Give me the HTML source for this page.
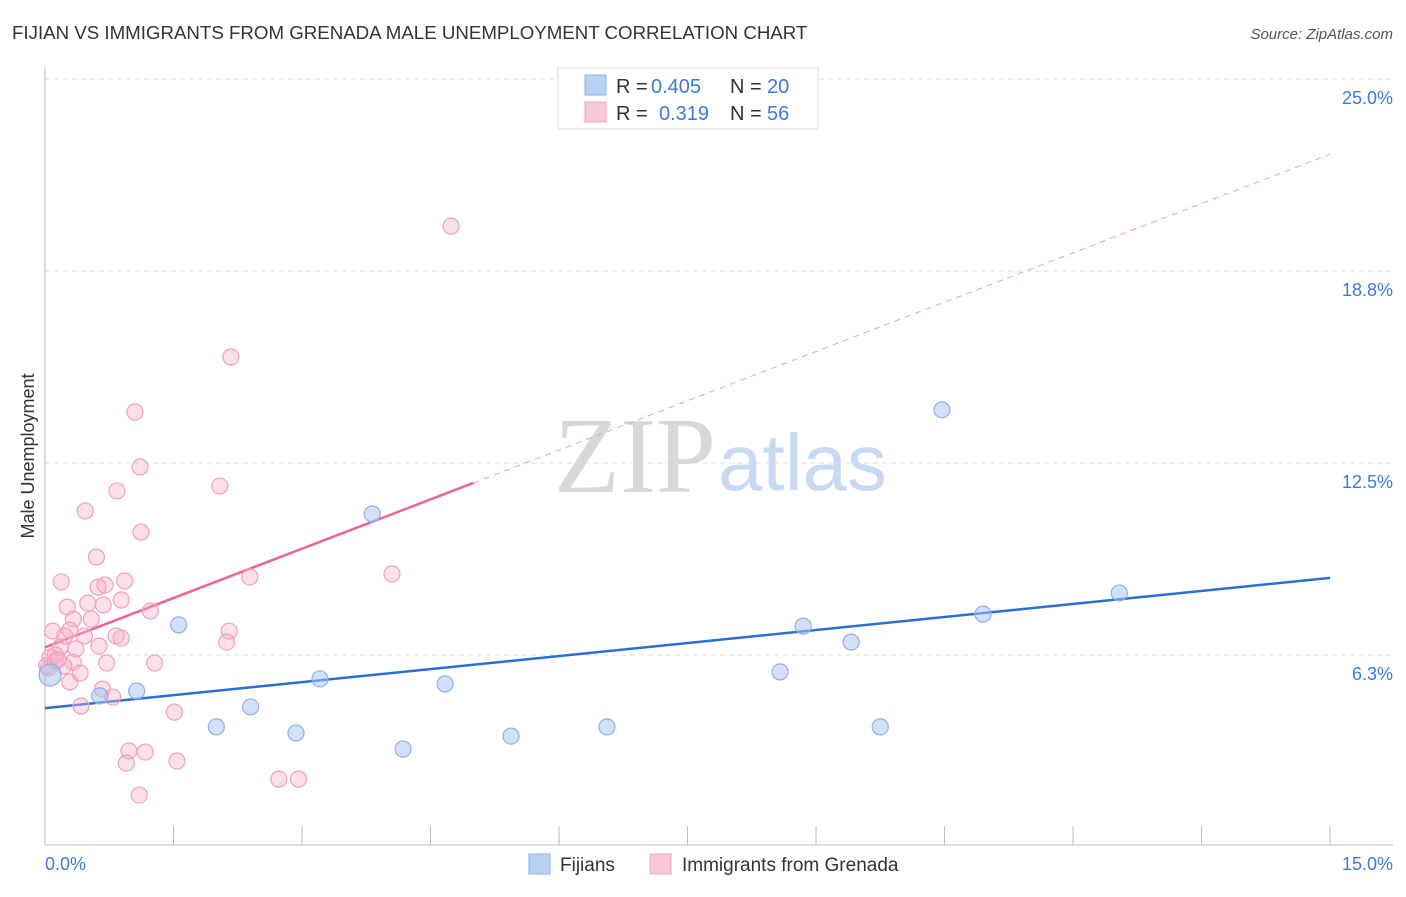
<!DOCTYPE html>
<html><head><meta charset="utf-8"><style>
body{margin:0;background:#fff;font-family:"Liberation Sans",sans-serif}
</style></head><body>
<svg id="chart" width="1406" height="892" xmlns="http://www.w3.org/2000/svg" font-family="Liberation Sans, sans-serif">
<text x="12" y="39" font-size="18.7" fill="#333">FIJIAN VS IMMIGRANTS FROM GRENADA MALE UNEMPLOYMENT CORRELATION CHART</text>
<text x="1393" y="39" font-size="15" fill="#555" font-style="italic" text-anchor="end">Source: ZipAtlas.com</text>
<text x="716" y="492" font-size="108" fill="#d8d8d8" text-anchor="end" font-family="Liberation Serif, serif">ZIP</text>
<text x="718" y="490" font-size="80" fill="#c8daf3">atlas</text>
<g id="grid"></g>
<g id="axes"></g>
<g id="lines"></g>
<g id="points"></g>
<text transform="translate(34,456) rotate(-90)" font-size="18" fill="#333" text-anchor="middle">Male Unemployment</text>
<text x="45" y="870" font-size="18" fill="#3d7bd9">0.0%</text>
<text x="1393" y="870" font-size="18" fill="#3d7bd9" text-anchor="end">15.0%</text>
<g>
<rect x="558" y="68" width="260" height="61" fill="#fff" stroke="#ddd"/>
<rect x="585" y="75" width="21" height="20" fill="#b9d1f4" stroke="#8fb0e6"/>
<rect x="585" y="102" width="21" height="20" fill="#f9c8d7" stroke="#f0a0bc"/>
<text x="616" y="93" font-size="20" fill="#333">R = </text><text x="651" y="93" font-size="20" fill="#3d7bd9">0.405</text>
<text x="730" y="93" font-size="20" fill="#333">N = </text><text x="767" y="93" font-size="20" fill="#3d7bd9">20</text>
<text x="616" y="120" font-size="20" fill="#333">R = </text><text x="659" y="120" font-size="20" fill="#3d7bd9">0.319</text>
<text x="730" y="120" font-size="20" fill="#333">N = </text><text x="767" y="120" font-size="20" fill="#3d7bd9">56</text>
</g>
<g>
<rect x="529" y="854" width="21" height="20" fill="#b9d1f4" stroke="#8fb0e6"/>
<text x="560" y="871" font-size="19" fill="#333">Fijians</text>
<rect x="650" y="854" width="21" height="20" fill="#f9c8d7" stroke="#f0a0bc"/>
<text x="682" y="871" font-size="19" fill="#333">Immigrants from Grenada</text>
</g>
</svg>
<script>
const yTicks=[6.25,12.5,18.75,25];
const yTickLabels=["6.3%","12.5%","18.8%","25.0%"];
const xTicks=[0,1.5,3,4.5,6,7.5,9,10.5,12,13.5,15];
const fijiX=[0.64,1.07,1.56,2.00,2.40,2.93,3.21,3.82,4.18,4.67,5.44,6.56,8.58,8.85,9.41,9.75,10.47,10.95,12.54,0.06];
const fijiY=[4.92,5.08,7.23,3.91,4.56,3.71,5.47,10.84,3.19,5.31,3.61,3.91,5.70,7.19,6.67,3.91,14.23,7.58,8.27,5.60];
const grenX=[4.74,2.17,1.05,1.11,2.04,0.84,0.47,1.12,0.60,4.05,2.39,0.19,0.93,0.62,0.70,0.89,0.50,0.68,0.26,1.23,0.33,0.54,0.09,0.29,0.23,0.46,0.83,0.89,2.15,2.12,0.18,0.36,0.63,0.06,0.12,0.33,0.72,1.28,0.04,0.22,0.41,0.29,0.67,0.79,0.42,1.51,0.98,1.17,0.95,1.54,2.73,2.96,1.10,0.12,0.02,0.15];
const grenY=[20.21,15.95,14.16,12.37,11.75,11.59,10.94,10.25,9.44,8.89,8.79,8.63,8.66,8.46,8.53,8.04,7.94,7.88,7.81,7.68,7.42,7.42,7.03,7.06,6.87,6.87,6.87,6.80,7.03,6.67,6.51,6.45,6.54,6.18,6.05,6.02,5.99,5.99,5.83,5.89,5.66,5.37,5.14,4.88,4.59,4.39,3.13,3.09,2.73,2.80,2.21,2.21,1.69,6.25,5.9,6.1];
const fijiFit=[4.52,8.76];
const grenFit=[6.5,1.07];
const NS="http://www.w3.org/2000/svg";
const sx=v=>45+v*85.67, sy=v=>847-v*30.72;
function mk(t,a,p){const e=document.createElementNS(NS,t);for(const k in a)e.setAttribute(k,a[k]);document.getElementById(p).appendChild(e);return e;}
yTicks.forEach((t,i)=>{
 const l=mk('line',{x1:45,x2:1393,y1:sy(t),y2:sy(t),stroke:'#ddd','stroke-dasharray':'5,4'},'grid');
 
 
 const tx=mk('text',{x:1393,y:sy(t)+25,'font-size':18,fill:'#3d7bd9','text-anchor':'end'},'grid');
 tx.textContent=yTickLabels[i];
 
 
});
let a=mk('line',{x1:45,x2:45,y1:68,y2:845,stroke:'#bbb'},'axes');


a=mk('line',{x1:45,x2:1393,y1:845,y2:845,stroke:'#bbb'},'axes');


xTicks.forEach(t=>{
 const k=mk('line',{x1:sx(t),x2:sx(t),y1:826,y2:845,stroke:'#bbb'},'axes');
 
 
});
let ln=mk('line',{x1:sx(0),y1:sy(fijiFit[0]),x2:sx(15),y2:sy(fijiFit[1]),stroke:'#2b6fd6','stroke-width':2.5},'lines');


ln=mk('line',{x1:sx(0),y1:sy(grenFit[0]),x2:sx(5),y2:sy(grenFit[0]+5*grenFit[1]),stroke:'#e8679a','stroke-width':2.5},'lines');


ln=mk('line',{x1:sx(5),y1:sy(grenFit[0]+5*grenFit[1]),x2:sx(15),y2:sy(grenFit[0]+15*grenFit[1]),stroke:'#eaa0bb','stroke-width':1,'stroke-dasharray':'6,5'},'lines');


grenX.forEach((x,i)=>{
 const c=mk('circle',{cx:sx(x),cy:sy(grenY[i]),r:8,fill:'rgba(246,175,200,0.4)',stroke:'#f0a0bc','stroke-width':1.2},'points');
 
 
});
fijiX.forEach((x,i)=>{
 const c=mk('circle',{cx:sx(x),cy:sy(fijiY[i]),r:i==19?11:8,fill:'rgba(165,195,242,0.5)',stroke:'#8fb0e6','stroke-width':1.2},'points');
 
 
});
</script>
</body></html>
